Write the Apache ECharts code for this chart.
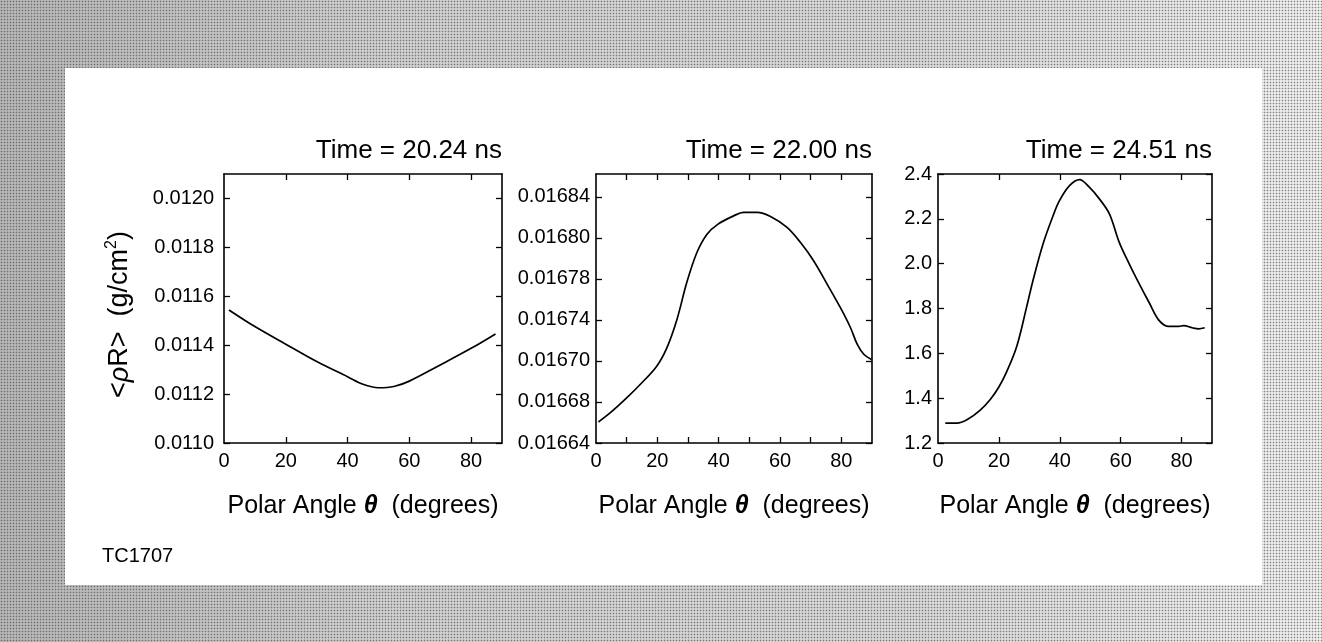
<!DOCTYPE html>
<html>
<head>
<meta charset="utf-8">
<title>Areal density vs polar angle</title>
<script src="https://cdn.jsdelivr.net/npm/echarts@6/dist/echarts.min.js"></script>
<style>
  html, body { margin: 0; padding: 0; width: 1322px; height: 642px; overflow: hidden; }
  body {
    background-color: #d4d4d4;
    background-image:
      radial-gradient(rgba(60,60,60,0.6) 0.7px, transparent 1.1px),
      linear-gradient(90deg, rgba(0,0,0,0.14), rgba(0,0,0,0.02) 30%, rgba(255,255,255,0.1) 70%, rgba(255,255,255,0.6));
    background-size: 3px 3px, 100% 100%;
  }
  #paper { position: absolute; left: 65px; top: 68px; width: 1197px; height: 517px; background: #fff; }
  #chart { position: absolute; left: 0; top: 0; width: 1322px; height: 642px; }
</style>
</head>
<body>
<div id="paper"></div>
<div id="chart"></div>
<script>
// Panel titles
const panelTitles = ['Time = 20.24 ns', 'Time = 22.00 ns', 'Time = 24.51 ns'];

// Polar angle (degrees) and <ρR> (g/cm²) for each time
const theta1 = [1.6, 10, 20, 30, 40, 45, 50, 55, 60, 70, 80, 87.9];
const rho1 = [0.011544, 0.011476, 0.011404, 0.011333, 0.011271, 0.011240, 0.011226, 0.011231, 0.011253, 0.011319, 0.011387, 0.011446];

const theta2 = [0.8, 4.6, 10, 14.4, 19.8, 23.1, 26.4, 29.6, 32.9, 36.2, 39.8, 44.9, 48.1, 52.5, 56.9, 62.3, 66.7, 71.0, 75.4, 79.7, 83.0, 85.2, 87.4, 89.8];
const rho2 = [0.0166571, 0.0166644, 0.0166766, 0.0166875, 0.0167024, 0.0167173, 0.0167404, 0.0167703, 0.0167947, 0.0168096, 0.0168178, 0.0168245, 0.0168273, 0.0168273, 0.0168240, 0.0168151, 0.0168028, 0.0167879, 0.0167689, 0.0167499, 0.0167336, 0.0167201, 0.0167119, 0.0167079];

const theta3 = [2.4, 6.2, 9.5, 13.8, 17.1, 20, 22.5, 25.8, 29.1, 31.2, 34.5, 37.8, 39.9, 43.2, 46.5, 49.7, 53, 56.3, 59.5, 62.8, 66.1, 69.3, 72.6, 75.8, 79.1, 80.7, 83.5, 85.6, 87.6];
const rho3 = [1.289, 1.289, 1.304, 1.346, 1.393, 1.450, 1.516, 1.628, 1.806, 1.925, 2.088, 2.214, 2.281, 2.348, 2.375, 2.341, 2.289, 2.222, 2.096, 1.999, 1.910, 1.828, 1.747, 1.720, 1.720, 1.724, 1.714, 1.709, 1.714];

// Axis ranges, tick positions and tick labels
const xRange = [0, 90];
const xLabelValues = [0, 20, 40, 60, 80];
const xLabels = ['0', '20', '40', '60', '80'];
const xTicks1 = [20, 40, 60, 80];
const xTicks2 = [10, 20, 30, 40, 50, 60, 70, 80];
const xTicks3 = [20, 40, 60, 80];

const yRange1 = [0.0110, 0.0121];
const yTicks1 = [0.0110, 0.0112, 0.0114, 0.0116, 0.0118, 0.0120];
const yLabels1 = ['0.0110', '0.0112', '0.0114', '0.0116', '0.0118', '0.0120'];

const yRange2 = [0.01664, 0.0168585];
const yTicks2 = [0.01664, 0.01667333, 0.01670667, 0.01674, 0.01677333, 0.01680667, 0.01684];
const yLabels2 = ['0.01664', '0.01668', '0.01670', '0.01674', '0.01678', '0.01680', '0.01684'];

const yRange3 = [1.2, 2.4];
const yTicks3 = [1.2, 1.4, 1.6, 1.8, 2.0, 2.2, 2.4];
const yLabels3 = ['1.2', '1.4', '1.6', '1.8', '2.0', '2.2', '2.4'];

const FONT = '"Liberation Sans", Arial, Helvetica, sans-serif';
const INK = '#000';

// plot boxes in page pixels
const grids = [
  { left: 224, top: 174, width: 278, height: 269 },
  { left: 596, top: 174, width: 276, height: 269 },
  { left: 938, top: 174, width: 274, height: 269 }
];

function pickLabel(values, labels) {
  return function (v) {
    let best = 0, d = Infinity;
    values.forEach((t, i) => { const e = Math.abs(t - v); if (e < d) { d = e; best = i; } });
    return d < 1e-9 + Math.abs(v) * 1e-6 ? labels[best] : '';
  };
}

const axisLine = { show: true, onZero: false, lineStyle: { color: INK, width: 1.6 } };
const tickStyle = { color: INK, width: 1.3 };

const xName = {
  name: '{n|Polar Angle }{t|θ}{n|  (degrees)}',
  nameLocation: 'middle',
  nameGap: 51,
  nameTextStyle: {
    rich: {
      n: { fontFamily: FONT, fontSize: 25, color: INK },
      t: { fontFamily: FONT, fontSize: 25, color: INK, fontWeight: 'bold', fontStyle: 'italic' }
    }
  }
};

const xAxes = [], yAxes = [];
const xTickSets = [xTicks1, xTicks2, xTicks3];
const yRanges = [yRange1, yRange2, yRange3];
const yTickSets = [yTicks1, yTicks2, yTicks3];
const yLabelSets = [yLabels1, yLabels2, yLabels3];
const yMargins = [10, 6, 6];

for (let g = 0; g < 3; g++) {
  xAxes.push(Object.assign({
    type: 'value', gridIndex: g, position: 'bottom', min: xRange[0], max: xRange[1],
    axisLine: axisLine,
    axisTick: { show: true, inside: true, length: 6, customValues: xTickSets[g], lineStyle: tickStyle },
    axisLabel: { customValues: xLabelValues, formatter: pickLabel(xLabelValues, xLabels), margin: 8, color: INK, fontSize: 20, fontFamily: FONT },
    splitLine: { show: false }
  }, xName));
  xAxes.push({
    type: 'value', gridIndex: g, position: 'top', min: xRange[0], max: xRange[1],
    axisLine: axisLine,
    axisTick: { show: true, inside: true, length: 6, customValues: xTickSets[g], lineStyle: tickStyle },
    axisLabel: { show: false },
    splitLine: { show: false }
  });
  const yLeft = {
    type: 'value', gridIndex: g, position: 'left', min: yRanges[g][0], max: yRanges[g][1],
    axisLine: axisLine,
    axisTick: { show: true, inside: true, length: 6, customValues: yTickSets[g], lineStyle: tickStyle },
    axisLabel: { customValues: yTickSets[g], formatter: pickLabel(yTickSets[g], yLabelSets[g]), margin: yMargins[g], color: INK, fontSize: 20, fontFamily: FONT },
    splitLine: { show: false }
  };
  if (g === 0) {
    Object.assign(yLeft, {
      name: '{n|<}{i|ρ}{n|R>  (g/cm}{s|2}{n|)}',
      nameLocation: 'middle',
      nameRotate: 90,
      nameGap: 88,
      nameTextStyle: {
        padding: [0, 12, 0, 0],
        rich: {
          n: { fontFamily: FONT, fontSize: 27, color: INK, lineHeight: 32 },
          i: { fontFamily: FONT, fontSize: 27, color: INK, fontStyle: 'italic', lineHeight: 32 },
          s: { fontFamily: FONT, fontSize: 16, color: INK, verticalAlign: 'top', lineHeight: 32 }
        }
      }
    });
  }
  yAxes.push(yLeft);
  yAxes.push({
    type: 'value', gridIndex: g, position: 'right', min: yRanges[g][0], max: yRanges[g][1],
    axisLine: axisLine,
    axisTick: { show: true, inside: true, length: 6, customValues: yTickSets[g], lineStyle: tickStyle },
    axisLabel: { show: false },
    splitLine: { show: false }
  });
}

const seriesData = [
  theta1.map((t, i) => [t, rho1[i]]),
  theta2.map((t, i) => [t, rho2[i]]),
  theta3.map((t, i) => [t, rho3[i]])
];

const series = seriesData.map((d, g) => ({
  type: 'line',
  xAxisIndex: g * 2,
  yAxisIndex: g * 2,
  data: d,
  smooth: 0.35,
  showSymbol: false,
  lineStyle: { color: INK, width: 1.7 },
  animation: false
}));

const chart = echarts.init(document.getElementById('chart'), null, { renderer: 'canvas' });
chart.setOption({
  animation: false,
  backgroundColor: 'transparent',
  title: panelTitles.map((t, g) => ({
    text: t,
    right: 1322 - (grids[g].left + grids[g].width),
    top: 138,
    padding: 0,
    textStyle: { fontFamily: FONT, fontSize: 26, fontWeight: 'normal', color: INK }
  })),
  grid: grids.map(b => Object.assign({ show: false }, b)),
  xAxis: xAxes,
  yAxis: yAxes,
  series: series,
  graphic: [{
    type: 'text',
    left: 102,
    top: 546,
    style: { text: 'TC1707', fontFamily: FONT, fontSize: 20, fill: INK }
  }]
});
</script>
</body>
</html>
